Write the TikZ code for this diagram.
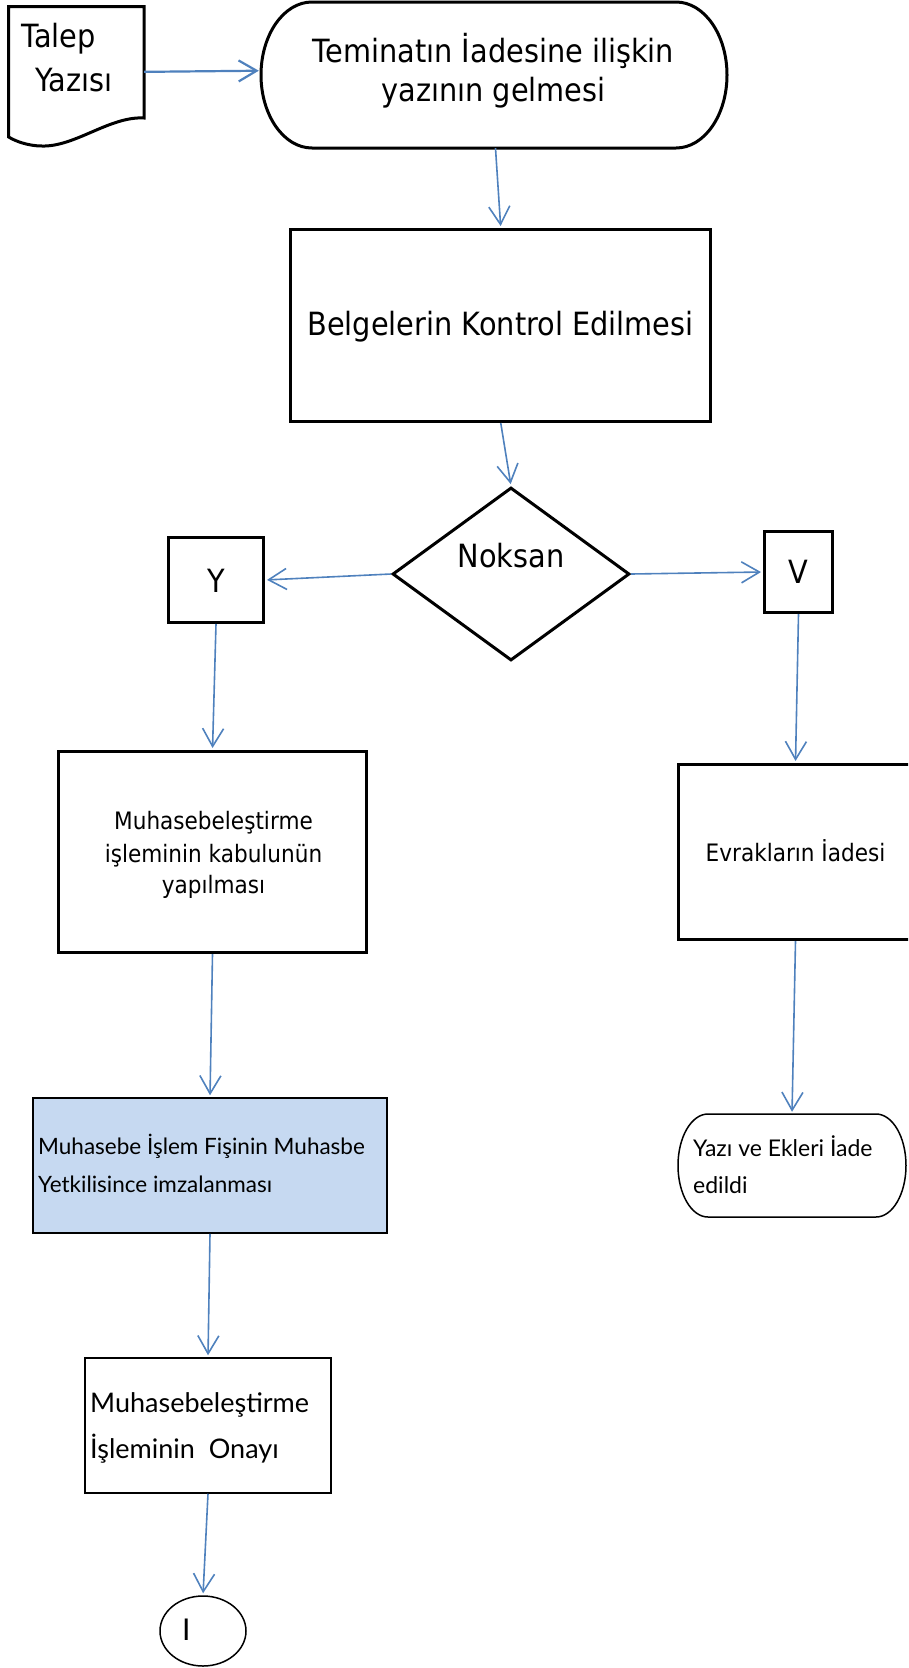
\documentclass[tikz,border=0pt]{standalone}
\usepackage{fontspec}
\usetikzlibrary{arrows.meta,shapes.geometric}
\newfontfamily\tahfont[FakeStretch=0.9]{DejaVu Sans}
\newfontfamily\gillfont{Lato}
\definecolor{arrblue}{RGB}{79,129,189}
\definecolor{boxblue}{RGB}{198,217,241}
\tikzset{
  thickbox/.style={draw=black, line width=3pt, inner sep=0pt},
  thinbox/.style={draw=black, line width=1.5pt, inner sep=0pt},
  anchorbox/.style={draw=none, inner sep=0pt},
  bigtxt/.style={inner sep=0pt, font=\tahfont\fontsize{32}{38}\selectfont},
  midtxt/.style={inner sep=0pt, font=\tahfont\fontsize{24}{32}\selectfont},
  gtxt/.style={inner sep=0pt, font=\gillfont\fontsize{22.5}{38}\selectfont},
  gbig/.style={inner sep=0pt, font=\gillfont\fontsize{27}{38}\selectfont},
  flow/.style={draw=arrblue, line width=1.6pt, -{Straight Barb[length=18pt,width=21pt]}, shorten >=2pt},
}
\begin{document}
\begin{tikzpicture}[x=1pt,y=-1pt]
\useasboundingbox (0,0) rectangle (908,1668);
\clip (0,0) rectangle (908,1668);

% Talep Yazisi (document shape)
\node[anchorbox, minimum width=135.3pt, minimum height=130.3pt] (talep) at (76.35,71.85) {};
\draw[line width=3pt] (8.7,6.7) -- (144,6.7) -- (144,118)
  .. controls (110,116) and (75,147) .. (42,146)
  .. controls (28,146) and (15,141) .. (8.7,137) -- cycle;
\node[bigtxt, anchor=base west] (talep1) at (21,47) {Talep};
\node[bigtxt, anchor=base west] (talep2) at (35,91) {Yazısı};

% Terminal
\node[anchorbox, minimum width=466pt, minimum height=146pt] (term) at (494,75) {};
\draw[line width=3pt] (312,2) -- (676,2)
  .. controls (704.2,2) and (727,34.7) .. (727,75)
  .. controls (727,115.3) and (704.2,148) .. (676,148) -- (312,148)
  .. controls (283.8,148) and (261,115.3) .. (261,75)
  .. controls (261,34.7) and (283.8,2) .. (312,2) -- cycle;
\node[bigtxt, anchor=base] (term1) at (493.5,62.7) {Teminatın İadesine ilişkin};
\node[bigtxt, anchor=base] (term2) at (493.5,101.7) {yazının gelmesi};

% Belgelerin Kontrol Edilmesi
\node[thickbox, minimum width=420pt, minimum height=192pt] (belg) at (500.75,325.5) {};
\node[bigtxt, anchor=base] (belgt) at (500.5,335) {Belgelerin Kontrol Edilmesi};

% Decision
\node[diamond, thickbox, minimum width=237pt, minimum height=173pt] (dia) at (511,574) {};
\node[bigtxt, anchor=base] (diat) at (511,567) {Noksan};

% Y and V
\node[thickbox, minimum width=95pt, minimum height=85pt] (ybox) at (216,580) {};
\node[bigtxt, anchor=base] (yt) at (216,592) {Y};
\node[thickbox, minimum width=68pt, minimum height=81pt] (vbox) at (798.5,572) {};
\node[bigtxt, anchor=base] (vt) at (798.5,583) {V};

% Muhasebelestirme kabul
\node[thickbox, minimum width=308pt, minimum height=201pt] (muh) at (212.5,852) {};
\node[midtxt, anchor=base] (muh1) at (213.5,829) {Muhasebeleştirme};
\node[midtxt, anchor=base] (muh2) at (213.5,862) {işleminin kabulunün};
\node[midtxt, anchor=base] (muh3) at (213.5,893) {yapılması};

% Evraklarin Iadesi
\node[thickbox, minimum width=234pt, minimum height=175pt] (evrak) at (795.5,852) {};
\node[midtxt, anchor=base] (evrakt) at (795.5,861) {Evrakların İadesi};

% Muhasebe Islem Fisi
\node[thinbox, fill=boxblue, minimum width=354pt, minimum height=135pt] (fis) at (210,1165.5) {};
\node[gtxt, anchor=base west] (fis1) at (38,1154) {Muhasebe İşlem Fişinin Muhasbe};
\node[gtxt, anchor=base west] (fis2) at (38,1192) {Yetkilisince imzalanması};

% Onay
\node[thinbox, minimum width=246pt, minimum height=135pt] (onay) at (208,1425.5) {};
\node[gbig, anchor=base west] (onay1) at (90,1412) {Muhasebeleştirme};
\node[gbig, anchor=base west] (onay2) at (90,1458) {İşleminin\ \ Onayı};

% Yazi ve Ekleri
\node[anchorbox, minimum width=228pt, minimum height=103pt] (yazi) at (792,1165.5) {};
\draw[line width=1.5pt] (708,1114) -- (876,1114)
  .. controls (892.6,1114) and (906,1137.1) .. (906,1165.5)
  .. controls (906,1193.9) and (892.6,1217) .. (876,1217) -- (708,1217)
  .. controls (691.4,1217) and (678,1193.9) .. (678,1165.5)
  .. controls (678,1137.1) and (691.4,1114) .. (708,1114) -- cycle;
\node[inner sep=0pt, font=\gillfont\fontsize{23}{37}\selectfont, anchor=base west] (yazi1) at (693,1156) {Yazı ve Ekleri İade};
\node[inner sep=0pt, font=\gillfont\fontsize{23}{37}\selectfont, anchor=base west] (yazi2) at (693,1193) {edildi};

% Connector circle
\node[ellipse, thinbox, minimum width=86pt, minimum height=70pt] (circ) at (203,1631) {};
\node[inner sep=0pt, font=\gillfont\fontsize{30}{36}\selectfont, anchor=base west] (circt) at (182,1640) {I};

% Connectors
\draw[flow, line width=2.2pt] (talep.east) -- ([yshift=4.3pt]term.west);
\draw[flow] ([xshift=1.5pt]term.south) -- (belg.north);
\draw[flow] (belg.south) -- (dia.north);
\draw[flow] (dia.west) -- (ybox.east);
\draw[flow] (dia.east) -- (vbox.west);
\draw[flow] (ybox.south) -- (muh.north);
\draw[flow] (vbox.south) -- (evrak.north);
\draw[flow] (muh.south) -- (fis.north);
\draw[flow] (evrak.south) -- (yazi.north);
\draw[flow] (fis.south) -- (onay.north);
\draw[flow] (onay.south) -- (circ.north);
\end{tikzpicture}
\end{document}
